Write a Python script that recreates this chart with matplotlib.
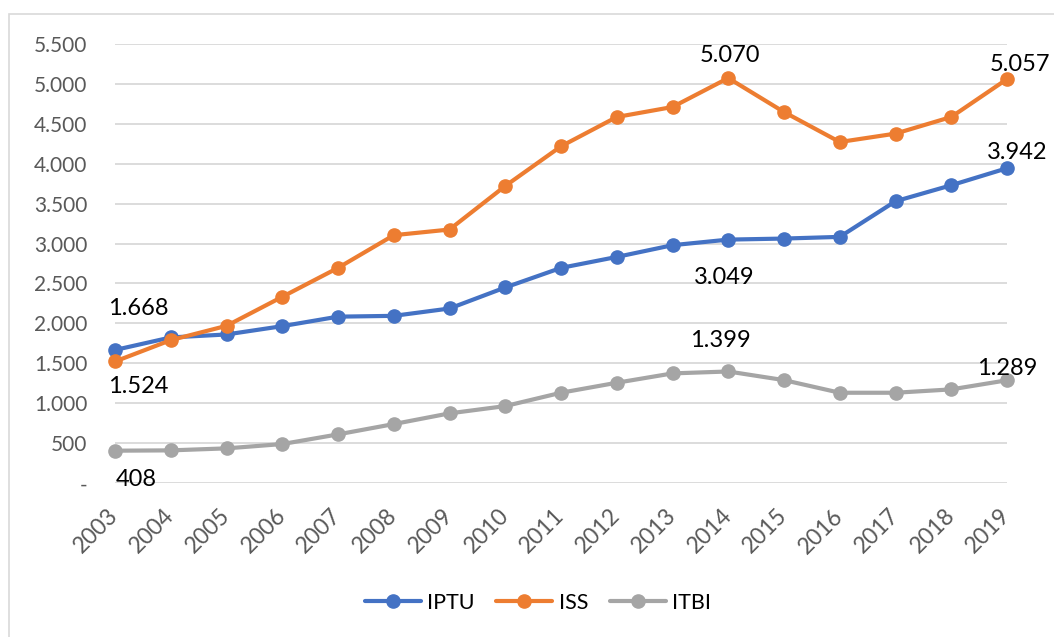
import matplotlib.pyplot as plt
from matplotlib.ticker import FuncFormatter
from matplotlib.patches import Rectangle

years = [str(y) for y in range(2003, 2020)]
iptu = [1668, 1825, 1862, 1966, 2085, 2095, 2187, 2450, 2695, 2832, 2979,
        3049, 3062, 3083, 3529, 3729, 3942]
iss = [1524, 1791, 1970, 2333, 2695, 3104, 3175, 3720, 4216, 4583, 4708,
       5070, 4645, 4270, 4375, 4583, 5057]
itbi = [408, 412, 437, 491, 612, 741, 875, 966, 1133, 1258, 1375,
        1399, 1291, 1133, 1133, 1175, 1289]

plt.rcParams['font.family'] = ['Lato', 'DejaVu Sans']

fig = plt.figure(figsize=(10.54, 6.37), dpi=100)
fig.patches.append(Rectangle((9 / 1054, -0.1), 1.2, 1 - 14 / 637 + 0.1,
                             transform=fig.transFigure, fill=False,
                             edgecolor='#d9d9d9', linewidth=1.2))
ax = fig.add_axes([115 / 1054, 1 - 483.3 / 637, (1007 - 115) / 1054, (483.3 - 43.7) / 637])

x = list(range(len(years)))
series = [('IPTU', iptu, '#4472C4'), ('ISS', iss, '#ED7D31'), ('ITBI', itbi, '#A5A5A5')]
for name, vals, col in series:
    ax.plot(x, vals, color=col, lw=3, marker='o', ms=9.5, label=name,
            solid_capstyle='round', clip_on=False, zorder=3)

ax.set_xlim(0, len(years) - 1)
ax.set_ylim(0, 5500)
ax.set_yticks(range(0, 5501, 500))
ax.yaxis.set_major_formatter(FuncFormatter(
    lambda v, p: '-' if v == 0 else f'{int(v):,}'.replace(',', '.')))
ax.set_xticks(x)
ax.set_xticklabels(years, rotation=45, ha='right', va='center', rotation_mode='anchor')
ax.grid(axis='y', color='#d9d9d9', lw=1.3)
ax.set_axisbelow(True)
for s in ax.spines.values():
    s.set_visible(False)
ax.tick_params(axis='both', length=0, labelcolor='#595959')
ax.tick_params(axis='y', pad=20, labelsize=15)
ax.tick_params(axis='x', pad=21, labelsize=16.5)

# data labels: (series values, index, dx px, dy px)
labels = [(iptu, 0, 23, 41), (iss, 0, 23, -25), (itbi, 0, 21, -29),
          (iss, 11, 2, 23), (iss, 16, 13, 15), (iptu, 16, 10, 16),
          (iptu, 11, -4, -38), (itbi, 11, -8, 31), (itbi, 16, 0, 12)]
for vals, i, dx, dy in labels:
    ax.annotate(f'{vals[i]:,}'.replace(',', '.'), (i, vals[i]),
                xytext=(dx * 0.72, dy * 0.72), textcoords='offset points',
                ha='center', va='center', fontsize=17, color='black',
                annotation_clip=False, zorder=4)

fig.legend(loc='center', bbox_to_anchor=(538 / 1054, 1 - 603 / 637), ncol=3,
           frameon=False, fontsize=15.5, handlelength=2.6, columnspacing=1.0,
           handletextpad=0.3)

fig.savefig('out.png', dpi=100)
